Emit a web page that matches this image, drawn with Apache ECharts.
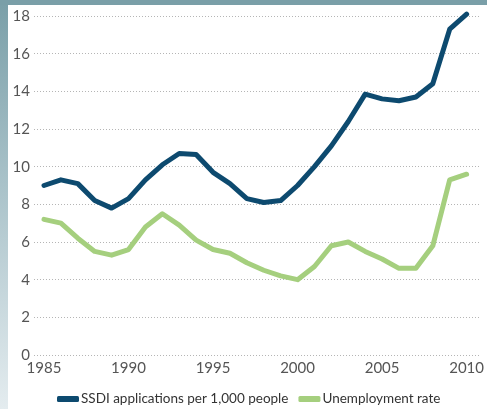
<!DOCTYPE html>
<html>
<head>
<meta charset="utf-8">
<script src="https://cdn.jsdelivr.net/npm/echarts@6/dist/echarts.min.js"></script>
<style>
html,body{margin:0;padding:0;width:487px;height:409px;overflow:hidden;}
body{background:linear-gradient(to bottom,#7a9fa8 0%,#a9c2c9 45%,#e4ecef 100%);}
#frame{position:absolute;left:0;top:0;width:487px;height:5px;background:#7a9fa8;}
#chart{position:absolute;left:8px;top:5px;width:479px;height:404px;background:#fff;}
</style>
</head>
<body>
<div id="frame"></div>
<div id="chart"></div>
<script>
const years = [1985,1986,1987,1988,1989,1990,1991,1992,1993,1994,1995,1996,1997,1998,1999,2000,2001,2002,2003,2004,2005,2006,2007,2008,2009,2010];
const ssdi = [9.0,9.3,9.1,8.2,7.8,8.3,9.3,10.1,10.7,10.65,9.7,9.1,8.3,8.1,8.2,9.0,10.0,11.1,12.4,13.85,13.6,13.5,13.7,14.4,17.3,18.1];
const unemployment = [7.2,7.0,6.2,5.5,5.3,5.6,6.8,7.5,6.9,6.1,5.6,5.4,4.9,4.5,4.2,4.0,4.7,5.8,6.0,5.5,5.1,4.6,4.6,5.8,9.3,9.6];
const seriesNames = ['SSDI applications per 1,000 people','Unemployment rate'];
const yTicks = {min:0, max:18, interval:2};
const xTicks = {min:1985, max:2010, interval:5};

const chart = echarts.init(document.getElementById('chart'), null, {renderer:'canvas'});
const tickFont = 'Lato, "Open Sans", sans-serif';
const legendFont = 'Lato, "Open Sans", sans-serif';
chart.setOption({
  animation:false,
  grid:[
    {left:26, right:7, top:11, bottom:54},
    {left:36, right:17, top:11, bottom:54}
  ],
  xAxis:[
    {gridIndex:0, type:'value', min:0, max:1, show:false},
    {gridIndex:1, type:'value', min:xTicks.min, max:xTicks.max, interval:xTicks.interval,
     axisLine:{show:false}, axisTick:{show:false}, splitLine:{show:false},
     axisLabel:{margin:6, color:'#555', fontSize:15, fontFamily:tickFont, formatter:v=>String(v)}}
  ],
  yAxis:[
    {gridIndex:0, type:'value', min:yTicks.min, max:yTicks.max, interval:yTicks.interval,
     axisLine:{show:false}, axisTick:{show:false},
     splitLine:{show:true, lineStyle:{color:'#b5b5b5', type:[1,2], width:1}},
     axisLabel:{margin:4, color:'#555', fontSize:15, fontFamily:tickFont}},
    {gridIndex:1, type:'value', min:yTicks.min, max:yTicks.max, interval:yTicks.interval, show:false}
  ],
  legend:{
    left:44, top:382, itemWidth:22, itemHeight:6, itemGap:10,
    icon:'roundRect',
    textStyle:{color:'#333', fontSize:13.5, fontFamily:legendFont, padding:[0,0,0,-3]},
    data:seriesNames
  },
  series:[
    {name:seriesNames[0], type:'line', xAxisIndex:1, yAxisIndex:1, clip:false,
     data:years.map((y,i)=>[y,ssdi[i]]), showSymbol:false, symbol:'none',
     lineStyle:{color:'#0d4a6f', width:5, cap:'round', join:'round'}, itemStyle:{color:'#0d4a6f'}},
    {name:seriesNames[1], type:'line', xAxisIndex:1, yAxisIndex:1, clip:false,
     data:years.map((y,i)=>[y,unemployment[i]]), showSymbol:false, symbol:'none',
     lineStyle:{color:'#a5cf7e', width:5, cap:'round', join:'round'}, itemStyle:{color:'#a5cf7e'}}
  ]
});
</script>
</body>
</html>
